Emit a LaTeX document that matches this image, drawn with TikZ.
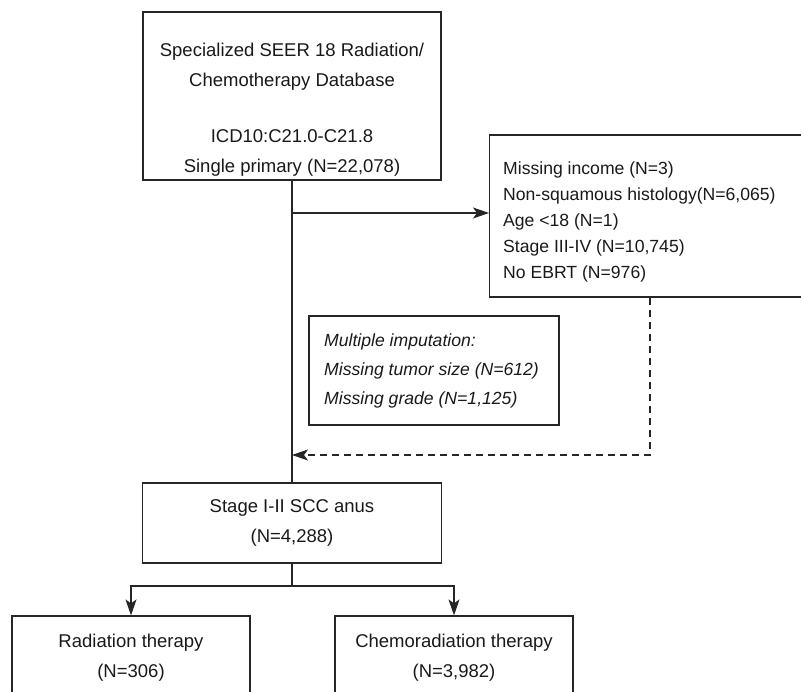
\documentclass[tikz,border=0pt]{standalone}
\usepackage{fontspec}
\setmainfont{Liberation Sans}
\usetikzlibrary{arrows.meta,calc}

\begin{document}
\begin{tikzpicture}[x=1pt,y=-1pt,
  box/.style={draw=black!85,line width=1.2pt,rectangle,inner sep=0pt},
  txt/.style={text=black!90,font=\fontsize{18.5}{29.5}\selectfont},
  note/.style={text=black!90,align=left,inner sep=0pt,anchor=west},
  line/.style={draw=black!85,line width=1.2pt},
  flow/.style={line,-{Stealth[length=16pt,width=11pt,inset=4pt]}}]

\useasboundingbox (0,0) rectangle (801,692);
\clip (0,0) rectangle (801,692);

\node[box,minimum width=298pt,minimum height=168pt] (src) at (292,96) {};
\node[txt,align=center] (srctxt) at (292,109.5) {Specialized SEER 18 Radiation/\\Chemotherapy Database\\[27pt]ICD10:C21.0-C21.8\\Single primary (N=22,078)};

\node[box,minimum width=330pt,minimum height=162pt,anchor=west] (excl) at (489,216) {};
\node[note,font=\fontsize{17.6}{26}\selectfont] (excltxt) at (503,221.5) {Missing income (N=3)\\Non-squamous histology(N=6,065)\\Age <18 (N=1)\\Stage III-IV (N=10,745)\\No EBRT (N=976)};

\node[box,minimum width=250pt,minimum height=109pt] (imp) at (434,370.5) {};
\node[note,font=\fontsize{17.6}{29}\selectfont\itshape] (imptxt) at (324,371) {Multiple imputation:\\Missing tumor size (N=612)\\Missing grade (N=1,125)};

\node[box,txt,align=center,minimum width=299pt,minimum height=80pt] (stage) at (292,523) {Stage I-II SCC anus\\(N=4,288)};

\node[box,txt,align=center,minimum width=238pt,minimum height=83pt] (rad) at (131,657.5) {Radiation therapy\\(N=306)};
\node[box,txt,align=center,minimum width=238pt,minimum height=83pt] (crt) at (454,657.5) {Chemoradiation therapy\\(N=3,982)};

\coordinate (fork) at (292,213);
\coordinate (join) at (292,455);
\coordinate (split) at (292,586);
\coordinate (dashx) at (650,0);

\draw[line] (src.south) -- (stage.north);
\draw[flow] (fork) -- (fork -| excl.west);
\draw[flow,dash pattern=on 7pt off 5pt] (excl.south -| dashx) |- (join);
\draw[line] (stage.south) -- (split);
\draw[flow] (split) -| (rad.north);
\draw[flow] (split) -| (crt.north);

\end{tikzpicture}
\end{document}
